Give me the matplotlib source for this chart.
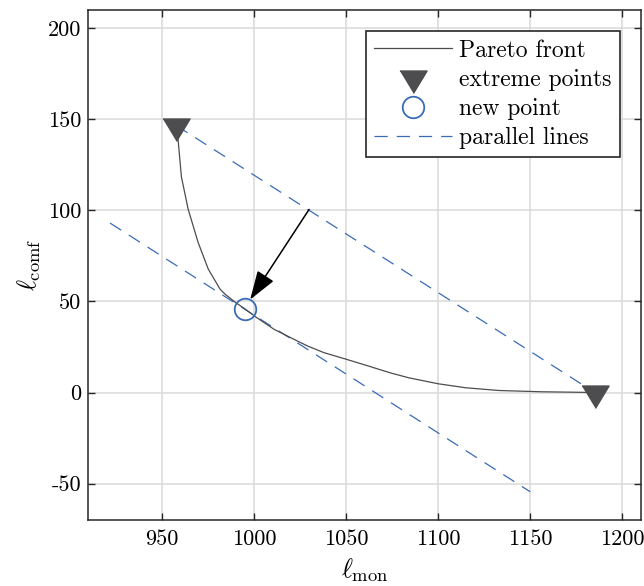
import matplotlib
matplotlib.use('Agg')

import matplotlib.pyplot as plt
from matplotlib.ticker import FixedLocator

plt.rcParams['font.family'] = 'serif'
plt.rcParams['font.serif'] = ['cmr10']
plt.rcParams['mathtext.fontset'] = 'cm'
plt.rcParams['axes.unicode_minus'] = False
plt.rcParams['lines.scale_dashes'] = False

# data
pareto_x = [958, 958.8, 960.7, 964.4, 969.8, 975.3, 981.7, 984.5, 990, 995,
            1001, 1011, 1020, 1029, 1038, 1050, 1062, 1074, 1084, 1100, 1115,
            1133, 1156, 1185]
pareto_y = [146.5, 140, 118.4, 100.5, 82.3, 67.7, 56.7, 53.9, 49.5, 46, 41.5,
            34.7, 30.1, 25.6, 21.9, 18.3, 14.6, 10.8, 8.1, 4.8, 2.6, 1.1,
            0.4, 0]
extreme_x = [958, 1185]
extreme_y = [146.5, 0]
new_x = [995]
new_y = [46]
lower_x = [922, 1150]
lower_y = [93, -54.5]
arrow_from = (1030, 100.5)
arrow_to = (998, 51)

xticks = [950, 1000, 1050, 1100, 1150, 1200]
yticks = [-50, 0, 50, 100, 150, 200]

blue = '#3a6bb6'
gray = '#4d4d4f'

fig = plt.figure(figsize=(6.44, 5.86), dpi=100)
ax = fig.add_axes([0.1366, 0.1126, 0.8584, 0.8704])

ax.plot(pareto_x, pareto_y, color=gray, lw=0.9, label='Pareto front', zorder=3)
tri = [(-1, 0.55), (1, 0.55), (0, -1.1)]
ax.plot(extreme_x, extreme_y, ls='none', marker=tri, ms=21.5, color=gray,
        mec=gray, label='extreme points', zorder=4)
ax.plot(new_x, new_y, ls='none', marker='o', ms=15.5, mfc='none', mec=blue,
        mew=1.3, label='new point', zorder=5)
ax.plot(extreme_x, extreme_y, color=blue, lw=0.9, ls=(0, (9.5, 6.5)),
        label='parallel lines', zorder=2)
ax.plot(lower_x, lower_y, color=blue, lw=0.9, ls=(0, (9.5, 6.5)), zorder=2)

ax.annotate('', xy=arrow_to, xytext=arrow_from,
            arrowprops=dict(arrowstyle='-|>,head_length=0.9,head_width=0.3',
                            color='black', lw=1.1, mutation_scale=20,
                            shrinkA=0, shrinkB=0), zorder=6)

ax.set_xlim(910, 1210)
ax.set_ylim(-70, 210)
ax.xaxis.set_major_locator(FixedLocator(xticks))
ax.yaxis.set_major_locator(FixedLocator(yticks))
ax.grid(True, color='#dcdcdc', lw=1.2, zorder=0)
ax.set_axisbelow(True)
ax.tick_params(direction='in', length=5, width=1, top=True, right=True,
               labelsize=16, color='#262626')
ax.tick_params(axis='x', pad=7)
ax.tick_params(axis='y', pad=5)
for sp in ax.spines.values():
    sp.set_color('#262626')
    sp.set_linewidth(1.1)

ax.set_xlabel(r'$\ell_{\rm mon}$', fontsize=19, labelpad=5)
ax.set_ylabel(r'$\ell_{\rm comf}$', fontsize=19, labelpad=3)

leg = ax.legend(loc='upper right', fontsize=17, handlelength=3.3,
                handletextpad=0.3, labelspacing=0.3, borderpad=0.35,
                borderaxespad=0.9, fancybox=False, framealpha=1,
                edgecolor='#262626', markerscale=1.0)
leg.get_frame().set_linewidth(1.2)

plt.savefig('out.png', dpi=100)
plt.close()
